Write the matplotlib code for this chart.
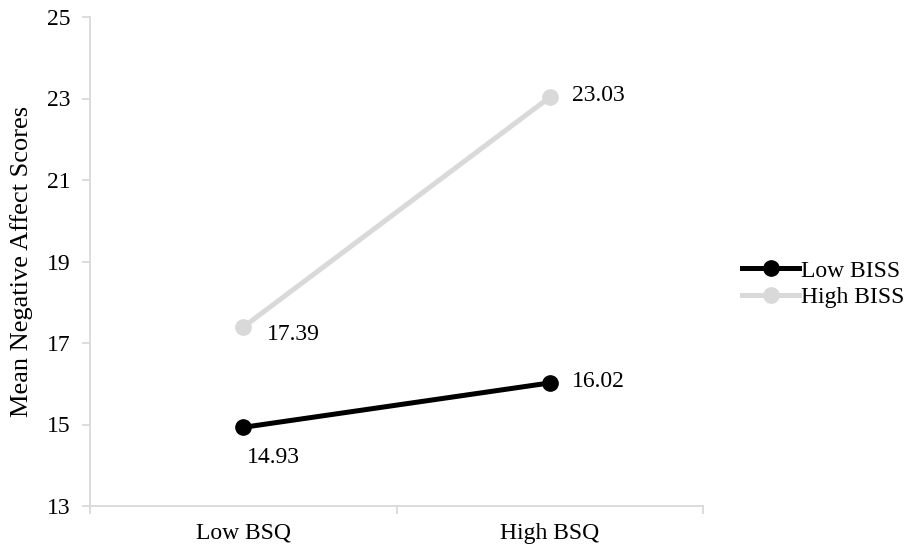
import matplotlib
matplotlib.use('Agg')
import matplotlib.pyplot as plt

categories = ["Low BSQ", "High BSQ"]
low_biss = [14.93, 16.02]
high_biss = [17.39, 23.03]
y_ticks = [13, 15, 17, 19, 21, 23, 25]

plt.rcParams['font.family'] = ['Liberation Serif', 'DejaVu Serif']

fig = plt.figure(figsize=(9.08, 5.5), dpi=100)
ax = fig.add_axes([90 / 908, 1 - 506 / 550, 613 / 908, 489 / 550])

x = list(range(len(categories)))
spine_col = '#d9d9d9'
fs = 17

ax.plot(x, low_biss, color='black', lw=3.6, marker='o', ms=11, label='Low BISS', zorder=3)
ax.plot(x, high_biss, color='#d9d9d9', lw=3.6, marker='o', ms=11, label='High BISS', zorder=2)

# data labels
ax.annotate(f"{high_biss[0]:.2f}", (x[0], high_biss[0]), xytext=(17, -5), textcoords='offset points',
            ha='left', va='center', fontsize=fs)
ax.annotate(f"{high_biss[1]:.2f}", (x[1], high_biss[1]), xytext=(16, 1), textcoords='offset points',
            ha='left', va='center', fontsize=fs)
ax.annotate(f"{low_biss[1]:.2f}", (x[1], low_biss[1]), xytext=(16, 1), textcoords='offset points',
            ha='left', va='center', fontsize=fs)
ax.annotate(f"{low_biss[0]:.2f}", (x[0], low_biss[0]), xytext=(3, -22), textcoords='offset points',
            ha='left', va='center', fontsize=fs)

ax.set_xlim(-0.5, len(categories) - 0.5)
ax.set_ylim(13, 25)
ax.set_yticks(y_ticks)
ax.set_yticklabels([str(t) for t in y_ticks], fontsize=fs)
ax.set_xticks([-0.5, 0.5, 1.5], minor=False)
ax.set_xticklabels([])
ax.set_xticks(x, minor=True)
ax.set_xticklabels(categories, minor=True, fontsize=fs)
ax.tick_params(axis='x', which='minor', length=0, pad=12)
ax.tick_params(axis='x', which='major', direction='out', length=6, color=spine_col, width=1.3)
ax.tick_params(axis='y', direction='out', length=6, color=spine_col, width=1.3, pad=8)

for side in ['top', 'right']:
    ax.spines[side].set_visible(False)
for side in ['left', 'bottom']:
    ax.spines[side].set_color(spine_col)
    ax.spines[side].set_linewidth(1.3)

ax.set_ylabel("Mean Negative Affect Scores", fontsize=19, labelpad=10)

ax.legend(loc='center left', bbox_to_anchor=(1.064, 0.454), frameon=False, fontsize=fs,
          handlelength=2.4, handletextpad=0.1, labelspacing=0.2,
          borderaxespad=0, borderpad=0)

fig.savefig('out.png', dpi=100, facecolor='white')
